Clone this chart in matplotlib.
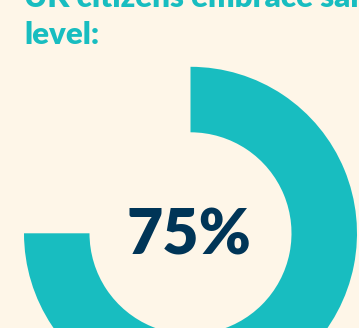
import matplotlib
matplotlib.use("Agg")
import matplotlib.pyplot as plt

# data
labels = ["Embrace", "Other"]
values = [75, 25]
center_label = "75%"
title_lines = ["UK citizens embrace same-sex", "level:"]

BG = "#FEF6E8"
TEAL = "#18BDC0"
NAVY = "#003557"

W, H = 359, 328
fig = plt.figure(figsize=(W / 100, H / 100), dpi=100, facecolor=BG)
ax = fig.add_axes([0, 0, 1, 1])
ax.set_facecolor(BG)

cx, cy = 190.5, H - 233.3
r_out, r_in = 166.5, 101
ax.pie(values, colors=[TEAL, "none"], startangle=90, counterclock=False,
       radius=r_out, center=(cx, cy), wedgeprops=dict(width=r_out - r_in, linewidth=0))

ax.set_xlim(0, W)
ax.set_ylim(0, H)
ax.set_aspect("auto")
ax.axis("off")

ax.text(189, H - 231, center_label, ha="center", va="center_baseline",
        fontsize=45, fontweight="heavy", family="Lato", color=NAVY)

ax.text(24, H - 7, title_lines[0], ha="left", va="baseline",
        fontsize=22.5, fontweight="heavy", family="Lato", color=TEAL)
ax.text(24, H - 44, title_lines[1], ha="left", va="baseline",
        fontsize=22.5, fontweight="heavy", family="Lato", color=TEAL)

fig.savefig("out.png", dpi=100, facecolor=BG)
